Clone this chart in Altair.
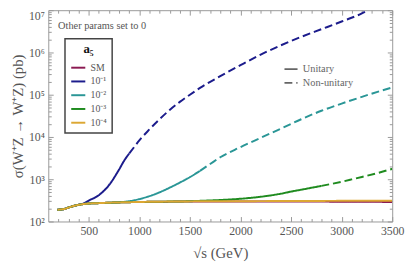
import altair as alt
import pandas as pd

SERIF = "Liberation Serif, Times New Roman, serif"

couplings = ["SM", "10⁻¹", "10⁻²", "10⁻³", "10⁻⁴"]
colors = ["#8B1A52", "#1C1C8C", "#2A9696", "#1F8B1F", "#DCA733"]

energy_sm = [190, 256, 300, 350, 402, 450, 500, 600, 760, 920, 1100, 1300, 1500, 2000, 2500, 3000, 3500]
sigma_sm = [190, 197, 214, 232, 248, 259, 266, 272, 281, 287, 292, 295, 297, 298, 297, 294, 290]

energy_a1 = [190, 256, 300, 350, 402, 450, 500, 600, 700, 800, 850, 900, 950, 1000, 1100, 1200, 1300, 1400,
             1500, 1600, 1800, 2000, 2200, 2400, 2600, 2800, 3000, 3200, 3260]
sigma_a1 = [190, 197, 214, 232, 250, 268, 312, 420, 724, 1700, 2750, 4070, 5820, 8300, 15100, 26300, 43700, 67600,
            100000, 145000, 275000, 501000, 891000, 1480000, 2340000, 3550000, 5400000, 8400000, 10000000]

energy_a2 = [190, 256, 300, 350, 402, 450, 500, 600, 760, 800, 900, 1000, 1100, 1200, 1300, 1400, 1500,
             1600, 1700, 1800, 2000, 2200, 2400, 2600, 2800, 3000, 3200, 3400, 3500]
sigma_a2 = [190, 197, 214, 232, 248, 259, 266, 272, 281, 285, 302, 339, 398, 490, 631, 832, 1120,
            1580, 2290, 3310, 5750, 9550, 15800, 26300, 41700, 61700, 89100, 126000, 148000]

energy_a3 = [190, 256, 300, 350, 402, 450, 500, 600, 760, 920, 1100, 1300, 1500, 1600, 1800, 2000,
             2200, 2400, 2500, 2600, 2800, 3000, 3100, 3200, 3400, 3500]
sigma_a3 = [190, 197, 214, 232, 248, 259, 266, 272, 281, 287, 292, 296, 301, 308, 322, 345,
            385, 455, 510, 565, 695, 870, 990, 1130, 1500, 1760]

energy_a4 = [190, 256, 300, 350, 402, 450, 500, 600, 760, 920, 1100, 1300, 1500, 2000, 2500, 3000, 3500]
sigma_a4 = [190, 197, 214, 232, 248, 259, 266, 272, 281, 287, 292, 296, 299, 302, 305, 308, 310]

cut_energy = [None, 900, 1600, 2800, None]

segments = ["Unitary", "Non-unitary"]

rows = []
for name, es, vs, cut in zip(couplings,
                             [energy_sm, energy_a1, energy_a2, energy_a3, energy_a4],
                             [sigma_sm, sigma_a1, sigma_a2, sigma_a3, sigma_a4],
                             cut_energy):
    for e, v in zip(es, vs):
        if cut is None or e <= cut:
            rows.append({"a5": name, "seg": "Unitary", "s": e, "sigma": v})
    if cut is not None:
        for e, v in zip(es, vs):
            if e >= cut:
                rows.append({"a5": name, "seg": "Non-unitary", "s": e, "sigma": v})
df = pd.DataFrame(rows)
df["series"] = df["a5"] + "|" + df["seg"]

x_ticks = list(range(200, 3501, 100))
y_ticks = [m * 10 ** e for e in range(2, 7) for m in range(1, 10)] + [10 ** 7]

x_minor = "datum.value % 500 != 0"
y_minor = "abs(log(datum.value)/LN10 - round(log(datum.value)/LN10)) > 0.001"
y_label = ("abs(log(datum.value)/LN10 - round(log(datum.value)/LN10)) < 0.001 ? "
           "'10' + ['⁰','¹','²','³','⁴','⁵','⁶','⁷'][round(log(datum.value)/LN10)] : ''")

common = dict(domain=False, grid=False, tickColor="#999", tickWidth=1, tickSize=5, offset=-5,
              labelFont=SERIF, labelColor="#555", labelFontSize=12, labelOverlap=False,
              labelFlush=False)

x_scale = alt.Scale(type="linear", domain=[100, 3500], nice=False, zero=False)
y_scale = alt.Scale(type="log", domain=[100, 10 ** 7], nice=False)

x_axis = alt.Axis(orient="bottom", values=x_ticks,
                  labelExpr="datum.value % 500 == 0 ? format(datum.value, 'd') : ''",
                  tickDash={"condition": {"test": x_minor, "value": [0, 2, 3, 0]}, "value": []},
                  labelPadding=4, title="√s  (GeV)", titleFont=SERIF, titleFontSize=15,
                  titleFontWeight="normal", titleColor="#555", titleY=37, titleBaseline="middle",
                  **common)
y_axis = alt.Axis(orient="left", values=y_ticks, labelExpr=y_label,
                  tickDash={"condition": {"test": y_minor, "value": [0, 2, 3, 0]}, "value": []},
                  labelOffset={"condition": {"test": "datum.value > 5000000", "value": 5}, "value": 0},
                  labelPadding=4, title="σ(W⁺Z → W⁺Z) (pb)", titleFont=SERIF, titleFontSize=15,
                  titleFontWeight="normal", titleColor="#555", titleX=-36, titleBaseline="middle",
                  **common)

x_axis_top = alt.Axis(orient="top", values=x_ticks, labels=False, title=None,
                      tickDash={"condition": {"test": x_minor, "value": [0, 2, 3, 0]}, "value": []},
                      **common)
y_axis_right = alt.Axis(orient="right", values=y_ticks, labels=False, title=None,
                        tickDash={"condition": {"test": y_minor, "value": [0, 2, 3, 0]}, "value": []},
                        **common)

main = alt.Chart(df).mark_line(strokeWidth=2, clip=True, interpolate="monotone").encode(
    x=alt.X("s:Q", scale=x_scale, axis=x_axis),
    y=alt.Y("sigma:Q", scale=y_scale, axis=y_axis),
    color=alt.Color("a5:N", scale=alt.Scale(domain=couplings, range=colors),
                    legend=alt.Legend(title="a₅", orient="none", legendX=17, legendY=29,
                                      direction="vertical", symbolType="stroke",
                                      symbolStrokeWidth=2, symbolSize=205, labelFont=SERIF,
                                      labelFontSize=10, labelColor="#555", labelOffset=4,
                                      titleFont=SERIF, titleFontSize=13, titleFontWeight="bold",
                                      titleColor="#111", titleAnchor="middle", titlePadding=3,
                                      rowPadding=0, padding=5, strokeColor="#444")),
    strokeDash=alt.StrokeDash("seg:N", scale=alt.Scale(domain=segments, range=[[1, 0], [8, 4]]),
                              legend=alt.Legend(title=None, orient="none", legendX=239, legendY=52,
                                                direction="vertical", symbolType="stroke",
                                                symbolStrokeWidth=1.8, symbolSize=177,
                                                symbolStrokeColor="#666", labelFont=SERIF,
                                                labelFontSize=10.5, labelColor="#666", labelOffset=4,
                                                rowPadding=0, padding=0)),
    detail="series:N",
)

mirror = alt.Chart(df).mark_line(opacity=0).encode(
    x=alt.X("s:Q", scale=x_scale, axis=x_axis_top),
    y=alt.Y("sigma:Q", scale=y_scale, axis=y_axis_right),
    detail="series:N",
)

note = alt.Chart(pd.DataFrame({"t": ["Other params set to 0"]})).mark_text(
    align="left", baseline="middle", font=SERIF, fontSize=10.5, color="#555"
).encode(text="t:N", x=alt.value(10), y=alt.value(16))

chart = alt.layer(main, mirror, note).resolve_axis(x="independent", y="independent").properties(
    width=350, height=215, autosize=alt.AutoSizeParams(type="none"),
    padding={"left": 41, "top": 0, "right": 13, "bottom": 40},
).configure_view(stroke="#999", strokeWidth=1).configure_legend(strokeWidth=1.5)

chart.save("out.html", embed_options={"renderer": "svg", "actions": False})
